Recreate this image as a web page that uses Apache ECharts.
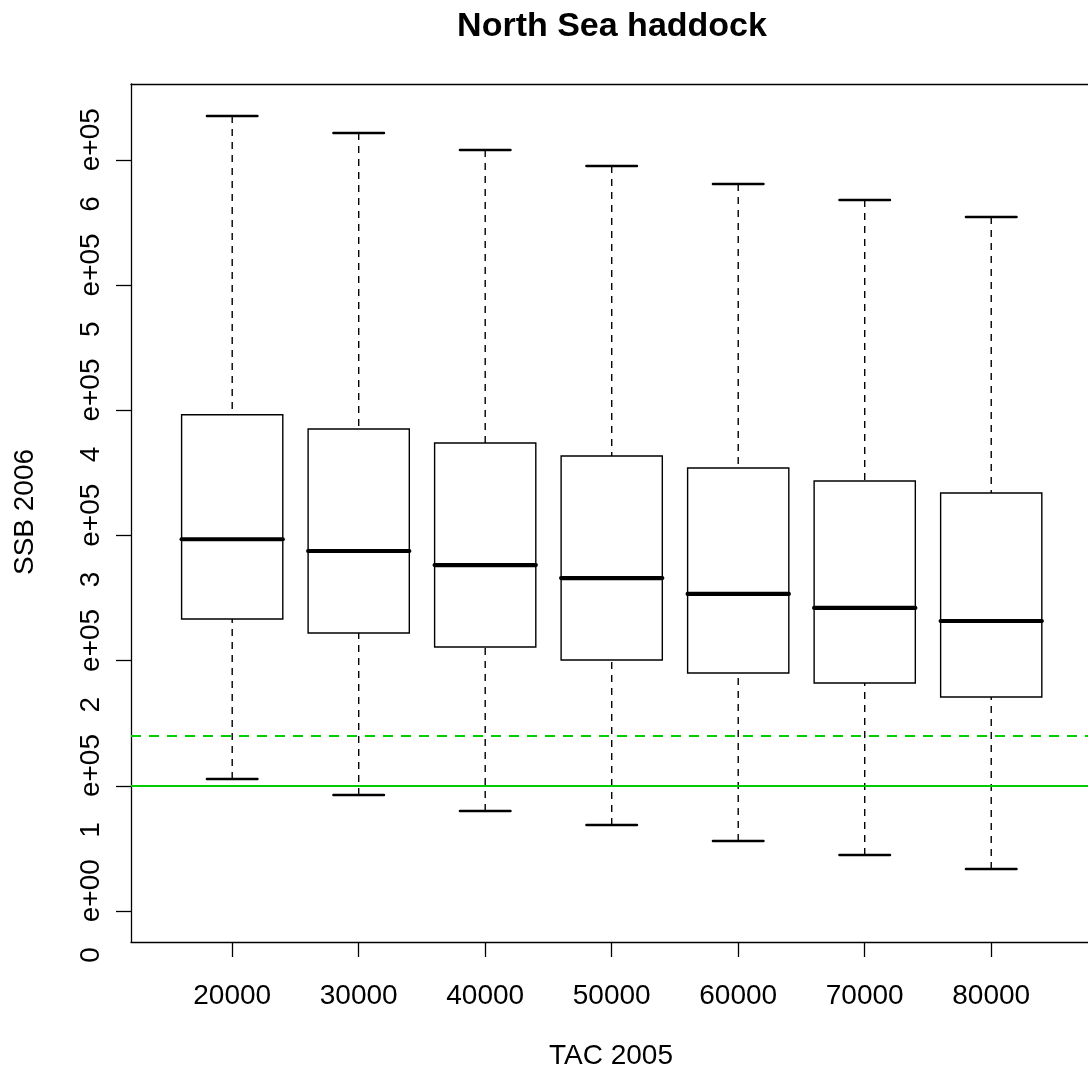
<!DOCTYPE html>
<html><head><meta charset="utf-8">
<script src="https://cdn.jsdelivr.net/npm/echarts@6/dist/echarts.min.js"></script>
<style>html,body{margin:0;padding:0;background:#fff}#c{width:1088px;height:1075px}</style>
</head><body><div id="c"></div>
<script>
// ---- data ----
const categories = ['20000','30000','40000','50000','60000','70000','80000'];
const whiskerLow  = [105460, 92700, 79900, 68700, 55900, 44700, 33600];
const q1          = [233300, 222100, 210900, 200500, 190100, 182200, 171000];
const median      = [297000, 287600, 276400, 266000, 253300, 242100, 231700];
const q3          = [396500, 385100, 373900, 363500, 353900, 343500, 333900];
const whiskerHigh = [635100, 621600, 608000, 595200, 580800, 568000, 554400];
const yTickValues = [0, 100000, 200000, 300000, 400000, 500000, 600000];
const yTickLabels = ['0e+00','1e+05','2e+05','3e+05','4e+05','5e+05','6e+05'];
const xPositions  = [1, 2, 3, 4, 5, 6, 7];
const limitLine = 100000;      // solid green
const precautionLine = 140000; // dashed green
const titleText = 'North Sea haddock';
const xTitle = 'TAC 2005';
const yTitle = 'SSB 2006';

const FONT = '"Liberation Sans", Arial, Helvetica, sans-serif';
const boxData = categories.map((c, i) => [xPositions[i], whiskerLow[i], q1[i], median[i], q3[i], whiskerHigh[i]]);
const frameLine = {show: true, onZero: false, lineStyle: {color: '#000', width: 1.3}};

const chart = echarts.init(document.getElementById('c'), null, {renderer: 'canvas'});
chart.setOption({
  animation: false,
  backgroundColor: '#fff',
  grid: {left: 131, top: 84, right: 0, height: 858, show: false, containLabel: false},
  xAxis: [{
    type: 'value', min: 0.2, max: 7.765, position: 'bottom',
    axisLine: frameLine,
    splitLine: {show: false},
    axisTick: {show: true, customValues: xPositions, length: 15, lineStyle: {color: '#000', width: 1.3}},
    axisLabel: {
      customValues: xPositions, margin: 40, color: '#000', fontSize: 28, fontFamily: FONT, lineHeight: 28,
      formatter: v => { const i = xPositions.indexOf(v); return i >= 0 ? categories[i] : ''; }
    }
  }, {
    type: 'value', min: 0.2, max: 7.765, position: 'top',
    axisLine: frameLine,
    splitLine: {show: false}, axisTick: {show: false}, axisLabel: {show: false}
  }],
  yAxis: {
    type: 'value', min: -24770, max: 660700,
    axisLine: frameLine,
    splitLine: {show: false},
    axisTick: {show: true, customValues: yTickValues, length: 15, lineStyle: {color: '#000', width: 1.3}},
    axisLabel: {
      customValues: yTickValues, rotate: 90, margin: 26, color: '#000',
      formatter: v => {
        const i = yTickValues.indexOf(v);
        if (i < 0) return '';
        const s = yTickLabels[i]; const k = s.indexOf('e');
        return '{d|' + s.slice(0, k) + '}{g|}{e|' + s.slice(k) + '}';
      },
      rich: {
        d: {fontSize: 28, fontFamily: FONT, color: '#000', lineHeight: 28},
        g: {width: 25, lineHeight: 28},
        e: {fontSize: 28, fontFamily: FONT, color: '#000', lineHeight: 28}
      }
    }
  },
  graphic: [
    {type: 'text', x: 612, y: 27, style: {text: titleText, font: 'bold 34px ' + FONT, fill: '#000', textAlign: 'center', textVerticalAlign: 'middle'}},
    {type: 'text', x: 611, y: 1056, style: {text: xTitle, font: '28px ' + FONT, fill: '#000', textAlign: 'center', textVerticalAlign: 'middle'}},
    {type: 'text', x: 25, y: 512, rotation: Math.PI / 2, style: {text: yTitle, font: '28px ' + FONT, fill: '#000', textAlign: 'center', textVerticalAlign: 'middle'}}
  ],
  series: [
    {
      type: 'custom',
      data: boxData,
      z: 2,
      encode: {x: 0, y: [1, 2, 3, 4, 5]},
      renderItem: (params, api) => {
        const x = api.value(0);
        const lo = api.value(1), a = api.value(2), m = api.value(3), b = api.value(4), hi = api.value(5);
        const hw = 0.4, cw = 0.2;
        const p = (xx, yy) => api.coord([xx, yy]);
        const dashed = {stroke: '#000', lineWidth: 1.4, lineDash: [7, 6], fill: null};
        const solidCap = {stroke: '#000', lineWidth: 2.4, lineCap: 'round', fill: null};
        const ln = (p1, p2, style) => ({type: 'line', shape: {x1: p1[0], y1: p1[1], x2: p2[0], y2: p2[1]}, style: style});
        const tl = p(x - hw, b), br = p(x + hw, a);
        return {type: 'group', children: [
          ln(p(x, hi), p(x, b), dashed),
          ln(p(x, lo), p(x, a), dashed),
          ln(p(x - cw, hi), p(x + cw, hi), solidCap),
          ln(p(x - cw, lo), p(x + cw, lo), solidCap),
          {type: 'rect', shape: {x: tl[0], y: tl[1], width: br[0] - tl[0], height: br[1] - tl[1]}, style: {fill: 'transparent', stroke: '#000', lineWidth: 1.4}},
          ln(p(x - hw, m), p(x + hw, m), {stroke: '#000', lineWidth: 4.2, lineCap: 'round', fill: null})
        ]};
      }
    },
    {
      type: 'line', data: [], z: 5, silent: true,
      markLine: {
        silent: true, symbol: ['none', 'none'], label: {show: false},
        lineStyle: {color: '#00CD00', width: 2},
        data: [
          {yAxis: limitLine, lineStyle: {type: 'solid', color: '#00CD00', width: 2}},
          {yAxis: precautionLine, lineStyle: {type: [10, 8], color: '#00CD00', width: 2}}
        ]
      }
    }
  ]
});
</script>
</body></html>
